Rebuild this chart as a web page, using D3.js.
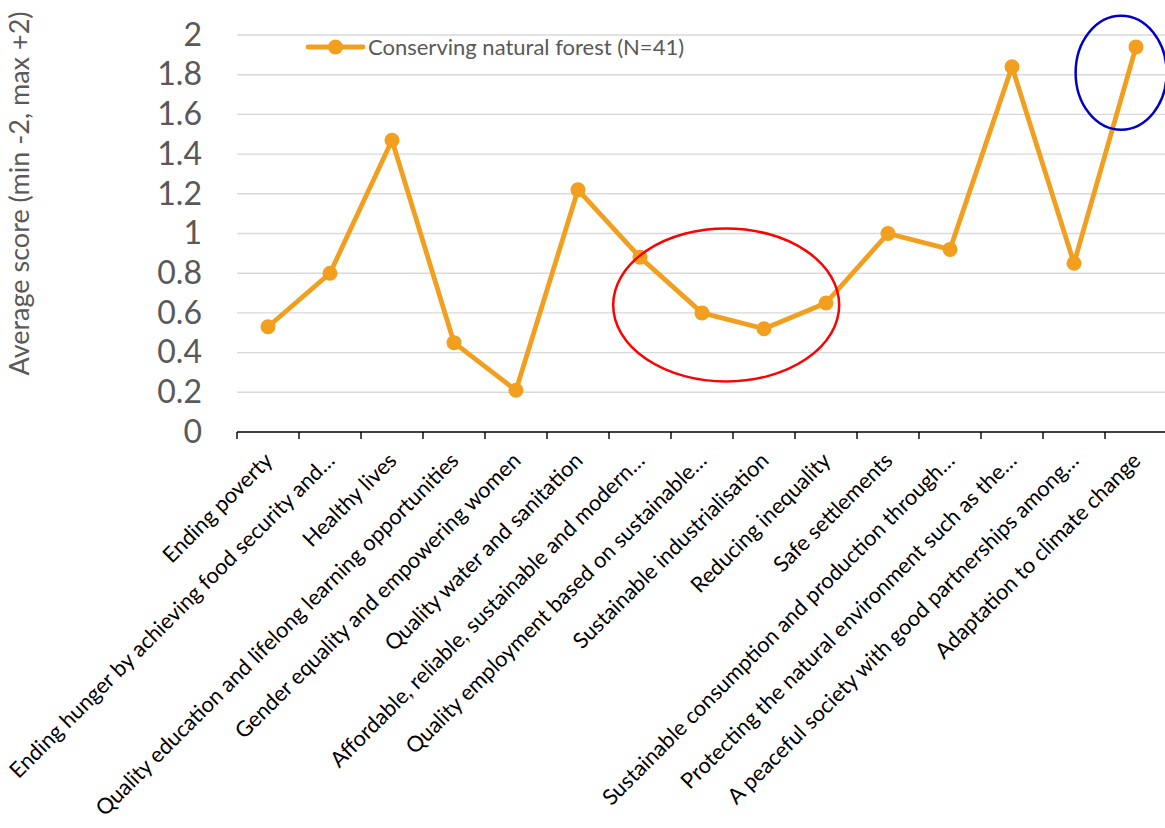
<!DOCTYPE html>
<html>
<head>
<meta charset="utf-8">
<script src="https://cdn.jsdelivr.net/npm/d3@7"></script>
<style>
  html, body { margin: 0; padding: 0; background: #fff; }
  svg { display: block; }
  text { font-family: Lato, "Open Sans", sans-serif; }
</style>
</head>
<body>
<svg id="chart" width="1165" height="828"></svg>
<script>
// Sustainable development goals and their average score for forest conservation
const categories = [
  "Ending poverty",
  "Ending hunger by achieving food security and…",
  "Healthy lives",
  "Quality education and lifelong learning opportunities",
  "Gender equality and empowering women",
  "Quality water and sanitation",
  "Affordable, reliable, sustainable and modern…",
  "Quality employment based on sustainable…",
  "Sustainable industrialisation",
  "Reducing inequality",
  "Safe settlements",
  "Sustainable consumption and production through…",
  "Protecting the natural environment such as the…",
  "A peaceful society with good partnerships among…",
  "Adaptation to climate change"
];
const scores = [0.53, 0.80, 1.47, 0.45, 0.21, 1.22, 0.88, 0.60, 0.52, 0.65, 1.00, 0.92, 1.84, 0.85, 1.94];
const seriesName = "Conserving natural forest (N=41)";
const yTicks = [0, 0.2, 0.4, 0.6, 0.8, 1, 1.2, 1.4, 1.6, 1.8, 2];
const yTitle = "Average score (min -2, max +2)";

// Highlight rings: centre in category index / score units
const highlights = [
  { cx: 7.39, cy: 0.64, rx: 113, ry: 76.5, color: "#ff0000" },
  { cx: 13.76, cy: 1.81, rx: 45.5, ry: 57, color: "#0000c8" }
];

const svg = d3.select("#chart");
const plot = { left: 237, right: 1167, top: 35, bottom: 432 };
const orange = "#f29f1f";

const x = d3.scaleBand().domain(d3.range(categories.length)).range([plot.left, plot.right]);
const xc = i => x(i) + x.bandwidth() / 2;
const xi = d3.scaleLinear().domain([0, categories.length - 1]).range([xc(0), xc(categories.length - 1)]);
const y = d3.scaleLinear().domain([0, 2]).range([plot.bottom, plot.top]);

// Horizontal gridlines
svg.append("g")
  .selectAll("line")
  .data(yTicks.filter(t => t > 0))
  .join("line")
  .attr("x1", plot.left).attr("x2", plot.right)
  .attr("y1", d => y(d)).attr("y2", d => y(d))
  .attr("stroke", "#d9d9d9").attr("stroke-width", 1.4);

// Y axis tick labels
const yAxis = svg.append("g")
  .attr("transform", `translate(${plot.left},0)`)
  .call(d3.axisLeft(y).tickValues(yTicks).tickSize(0).tickPadding(35).tickFormat(d3.format("")));
yAxis.select(".domain").remove();
yAxis.selectAll("text")
  .attr("fill", "#595959")
  .style("font-size", "32px");

// Y axis title
svg.append("text")
  .attr("transform", `translate(29,${(10 + 377) / 2}) rotate(-90)`)
  .attr("text-anchor", "middle")
  .attr("fill", "#595959")
  .style("font-size", "27px")
  .text(yTitle);

// X axis with category boundaries as ticks
const xAxis = svg.append("g")
  .attr("transform", `translate(0,${plot.bottom})`);
xAxis.append("line")
  .attr("x1", plot.left).attr("x2", plot.right)
  .attr("stroke", "#000").attr("stroke-width", 1.4);
xAxis.selectAll("line.tick")
  .data(d3.range(categories.length + 1))
  .join("line")
  .attr("class", "tick")
  .attr("x1", i => i < categories.length ? x(i) : plot.right)
  .attr("x2", i => i < categories.length ? x(i) : plot.right)
  .attr("y1", 0).attr("y2", 7)
  .attr("stroke", "#000").attr("stroke-width", 1.4);

// Rotated category labels
svg.append("g")
  .selectAll("text")
  .data(categories)
  .join("text")
  .attr("transform", (d, i) => `translate(${xc(i) + 6},${plot.bottom + 30}) rotate(-45)`)
  .attr("text-anchor", "end")
  .attr("fill", "#000")
  .style("font-size", "21.8px")
  .text(d => d);

// Series line and markers
const line = d3.line().x((d, i) => xc(i)).y(d => y(d));
svg.append("path")
  .datum(scores)
  .attr("d", line)
  .attr("fill", "none")
  .attr("stroke", orange)
  .attr("stroke-width", 4.8)
  .attr("stroke-linejoin", "round");
svg.append("g")
  .selectAll("circle")
  .data(scores)
  .join("circle")
  .attr("cx", (d, i) => xc(i))
  .attr("cy", d => y(d))
  .attr("r", 7.5)
  .attr("fill", orange);

// Legend
const legend = svg.append("g").attr("transform", "translate(308,47)");
legend.append("line")
  .attr("x1", 0).attr("x2", 55)
  .attr("stroke", orange).attr("stroke-width", 4.8).attr("stroke-linecap", "round");
legend.append("circle").attr("cx", 27.5).attr("r", 7.5).attr("fill", orange);
legend.append("text")
  .attr("x", 60).attr("dy", "0.35em")
  .attr("fill", "#595959")
  .style("font-size", "22px")
  .text(seriesName);

// Highlight rings
svg.append("g")
  .selectAll("ellipse")
  .data(highlights)
  .join("ellipse")
  .attr("cx", d => xi(d.cx))
  .attr("cy", d => y(d.cy))
  .attr("rx", d => d.rx)
  .attr("ry", d => d.ry)
  .attr("fill", "none")
  .attr("stroke", d => d.color)
  .attr("stroke-width", 2.5);
</script>
</body>
</html>
